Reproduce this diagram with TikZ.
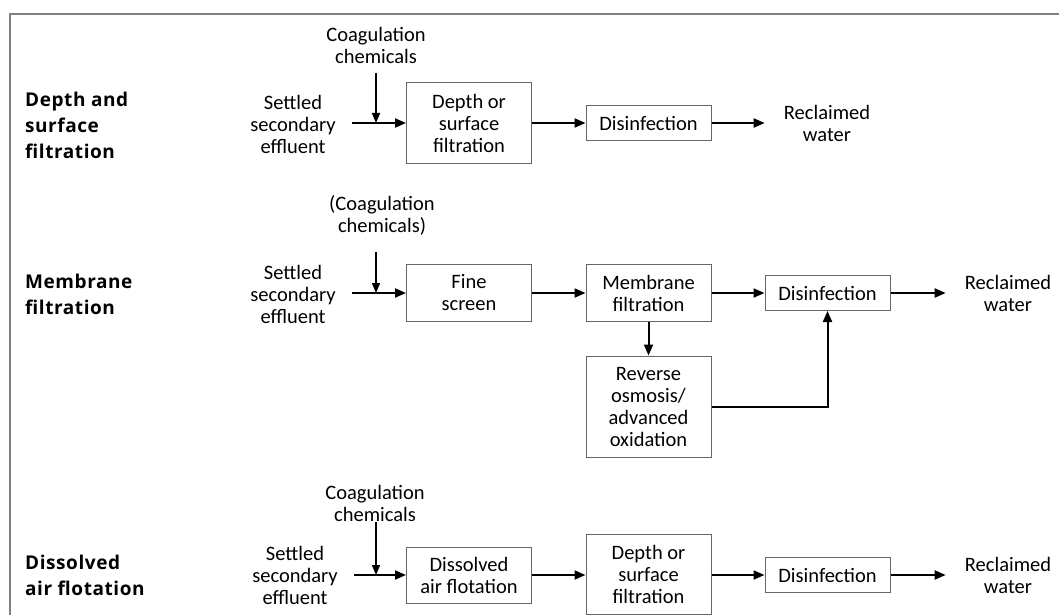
\documentclass[tikz,border=0pt]{standalone}
\usepackage{fontspec}
\setmainfont{Carlito}
\newfontfamily\labelfont[LetterSpace=3]{Open Sans}
\usetikzlibrary{arrows.meta}

\begin{document}
\begin{tikzpicture}[x=1pt, y=-1pt]
\tikzstyle{every node}=[align=center, inner sep=0pt, font=\fontsize{20.5}{22}\selectfont];
\tikzstyle{box}=[draw=black!60, line width=1pt, minimum width=125pt];
\tikzstyle{flow}=[line width=2pt, -{Triangle[length=11pt,width=9pt]}];
\tikzstyle{feed}=[line width=1.4pt, -{Triangle[length=10pt,width=8pt]}];
\tikzstyle{rowlabel}=[align=left, anchor=west, font=\labelfont\bfseries\fontsize{19}{26}\selectfont];
\useasboundingbox (0,0) rectangle (1059,615);
\draw[black!50, line width=1.6pt] (10,615) -- (10,14) -- (1059,14);

% depth and surface filtration
\path (25,125) node[rowlabel] (lab1) {Depth and\\surface\\filtration};
\path (293,124) node (set1) {Settled\\secondary\\effluent};
\path (376,64) node[anchor=south] (coag1) {Coagulation\\chemicals};
\path (469,123) node[box, minimum height=80pt] (dep1) {Depth or\\surface\\filtration};
\path (648.5,123) node[box, minimum height=35pt] (dis1) {Disinfection};
\path (827,123) node (rec1) {Reclaimed\\water};
\coordinate (j1) at (376,123);
\draw[flow, shorten <=16pt] (set1.east |- j1) -- (dep1);
\draw[feed, shorten <=9pt] (coag1.south -| j1) -- (j1);
\draw[flow] (dep1) -- (dis1);
\draw[flow, shorten >=19pt] (dis1) -- (rec1);

% membrane filtration
\path (25,294) node[rowlabel] (lab2) {Membrane\\filtration};
\path (293,294) node (set2) {Settled\\secondary\\effluent};
\path (382,236) node[anchor=south] (coag2) {(Coagulation\\chemicals)};
\path (469,293) node[box, minimum height=57pt] (fine) {Fine\\screen};
\path (648.5,293) node[box, minimum height=57pt] (mem) {Membrane\\filtration};
\path (827.5,293) node[box, minimum height=35pt] (dis2) {Disinfection};
\path (1008,293) node (rec2) {Reclaimed\\water};
\path (648.5,406.5) node[box, minimum height=101pt] (ro) {Reverse\\osmosis/\\advanced\\oxidation};
\coordinate (j2) at (376,293);
\draw[flow, shorten <=16pt] (set2.east |- j2) -- (fine);
\draw[feed, shorten <=16pt] (coag2.south -| j2) -- (j2);
\draw[flow] (fine) -- (mem);
\draw[flow] (mem) -- (dis2);
\draw[flow, shorten >=19pt] (dis2) -- (rec2);
\draw[flow] (mem) -- (ro);
\draw[flow] (ro) -| (dis2);

% dissolved air flotation
\path (25,575) node[rowlabel] (lab3) {Dissolved\\air flotation};
\path (295,575) node (set3) {Settled\\secondary\\effluent};
\path (375,522) node[anchor=south] (coag3) {Coagulation\\chemicals};
\path (469,575) node[box, minimum height=56pt] (daf) {Dissolved\\air flotation};
\path (648.5,574) node[box, minimum height=80pt] (dep3) {Depth or\\surface\\filtration};
\path (827.5,575) node[box, minimum height=35pt] (dis3) {Disinfection};
\path (1008,575) node (rec3) {Reclaimed\\water};
\coordinate (j3) at (376,575);
\draw[flow, shorten <=16pt] (set3) -- (daf);
\draw[feed] (coag3.south -| j3) -- (j3);
\draw[flow] (daf) -- (dep3.west |- daf);
\draw[flow] (dep3.east |- dis3) -- (dis3);
\draw[flow, shorten >=19pt] (dis3) -- (rec3);
\end{tikzpicture}
\end{document}
